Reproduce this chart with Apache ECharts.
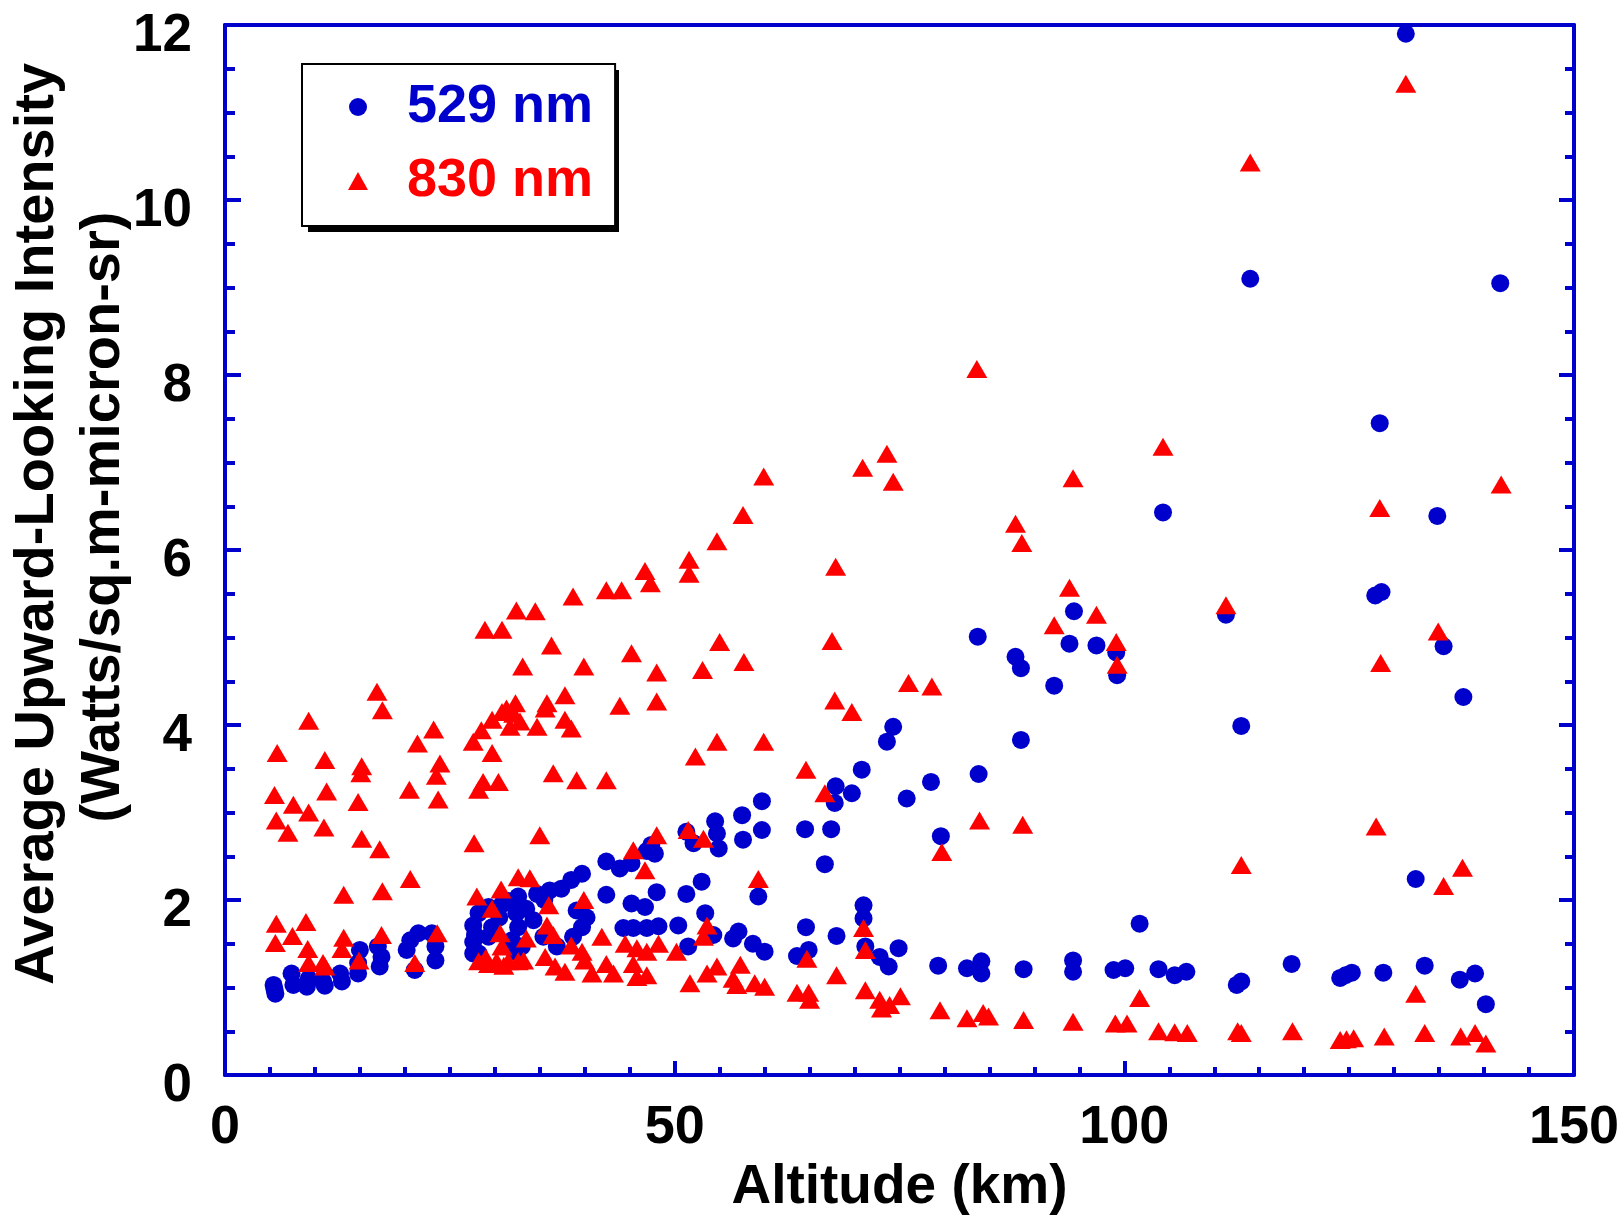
<!DOCTYPE html>
<html><head><meta charset="utf-8">
<script src="https://cdn.jsdelivr.net/npm/echarts@6/dist/echarts.min.js"></script>
<style>html,body{margin:0;padding:0;background:#fff}#c{width:1624px;height:1216px}</style>
</head><body><div id="c"></div>
<script>
// Altitude (km), intensity pairs
const points529 = [
[5.4,1.03],[5.6,0.93],[5.5,0.98],[7.4,1.16],[7.6,1.03],[9.1,1.01],[9.3,1.10],[10.9,1.07],[11.1,1.02],[12.8,1.16],[13.0,1.07],[14.8,1.16],[14.8,1.28],[15.0,1.43],[17.0,1.47],[17.2,1.24],[17.4,1.35],[20.2,1.43],[20.6,1.54],[21.1,1.20],[21.5,1.62],[23.0,1.62],[23.4,1.47],[23.4,1.31],
[27.6,1.71],[27.6,1.52],[27.6,1.39],[27.8,1.60],[28.2,1.85],[28.2,1.39],[29.3,1.92],[29.3,1.58],[29.7,1.69],[30.5,1.80],[30.8,1.95],[31.5,1.99],[31.9,1.54],[32.2,1.41],[32.4,1.85],[32.6,2.04],[32.6,1.69],[33.0,1.47],
[34.7,2.07],[36.1,2.11],[37.4,2.13],[38.5,2.23],[39.7,2.30],[42.4,2.44],[43.9,2.36],[45.2,2.42],[46.9,2.56],[47.4,2.63],[47.8,2.53],[51.3,2.78],[52.1,2.65],[54.5,2.90],[54.7,2.76],[54.9,2.59],[57.5,2.97],[57.6,2.69],[59.7,3.13],[59.7,2.80],[42.4,2.06],[45.2,1.96],[46.7,1.92],[48.0,2.09],[51.3,2.07],[53.0,2.21],[59.3,2.04],[53.4,1.85],[54.3,1.60],[50.4,1.71],[48.2,1.70],[46.9,1.68],[45.4,1.68],[44.3,1.68],[39.7,1.69],[38.7,1.58],[34.3,1.77],[51.5,1.47],[56.5,1.56],[57.1,1.64],[58.7,1.50],[60.0,1.41],[36.9,1.47],[35.4,1.58],[39.1,1.88],[40.2,1.80],[35.5,2.00],[33.5,1.90],
[74.3,3.98],[73.6,3.81],[88.5,3.83],[70.8,3.49],[67.9,3.30],[69.7,3.22],[67.8,3.11],[78.5,3.35],[75.8,3.16],[83.8,3.44],[64.5,2.81],[67.4,2.81],[66.7,2.41],[79.6,2.73],[71.0,1.94],[71.0,1.79],[64.6,1.69],[68.0,1.59],[63.6,1.36],[64.9,1.43],[71.2,1.47],[72.8,1.35],[73.8,1.24],[74.9,1.45],[79.3,1.25],[82.5,1.22],[84.1,1.30],[84.1,1.16],[88.8,1.21],[94.3,1.31],[94.3,1.18],
[83.7,5.01],[87.9,4.78],[88.5,4.65],[92.2,4.45],[93.9,4.93],[94.4,5.30],[104.3,6.43],[96.9,4.91],[99.1,4.83],[99.2,4.57],[111.3,5.26],
[113.0,3.99],[101.7,1.73],[98.8,1.20],[100.1,1.22],[103.8,1.21],[105.6,1.14],[106.9,1.18],[113.0,1.07],[112.5,1.03],[118.6,1.27],[124.0,1.11],[125.3,1.17],
[137.7,4.32],[132.4,2.24],[124.6,1.14],[128.8,1.17],[133.4,1.25],[137.3,1.09],[139.0,1.16],[140.2,0.81],
[128.4,7.45],[134.8,6.39],[127.9,5.48],[128.6,5.52],[135.5,4.90],
[131.3,11.90],[114.0,9.10],[141.8,9.05]
];
const points830 = [
[16.9,4.38],[17.5,4.17],[9.3,4.05],[23.2,3.95],[21.4,3.79],[5.8,3.68],[11.1,3.60],[15.2,3.53],[15.1,3.45],[23.9,3.56],[23.5,3.42],[5.5,3.20],[11.3,3.24],[20.5,3.26],[14.8,3.12],[23.7,3.15],[7.6,3.09],[9.3,3.00],[5.7,2.91],[7.0,2.77],[11.0,2.83],[15.2,2.70],[17.2,2.58],[20.6,2.24],[13.2,2.06],[17.5,2.10],[5.7,1.73],[9.0,1.75],[5.6,1.51],[7.5,1.59],[9.2,1.44],[13.2,1.57],[13.0,1.44],[17.4,1.60],[14.9,1.31],[9.3,1.28],[10.9,1.28],[11.1,1.24],[23.6,1.62],[21.1,1.28],
[27.7,2.65],[28.0,2.04],[30.7,2.12],[32.6,2.26],[29.7,1.90],[30.6,1.62],[30.8,1.47],[28.2,1.30],[29.0,1.34],[29.3,1.27],[30.2,1.30],[31.0,1.25],[31.5,1.30],[32.6,1.30],[33.2,1.31],
[27.6,3.81],[28.5,3.94],[29.7,4.06],[30.8,4.15],[31.3,4.19],[32.3,4.25],[32.1,4.13],[31.7,3.98],[32.8,4.04],[29.7,3.68],[28.7,3.35],[30.4,3.35],[28.2,3.26],
[35.8,4.25],[37.8,4.34],[35.6,4.19],[37.8,4.06],[38.5,3.96],[34.7,3.98],[43.9,4.22],[48.0,4.27],[52.3,3.64],[54.7,3.81],[59.9,3.81],[36.5,3.45],[39.1,3.37],[42.4,3.37],[35.0,2.74],[51.5,2.80],[53.2,2.70],[48.0,2.74],[45.4,2.57],[46.7,2.34],[59.3,2.24],[33.9,2.25],[39.9,2.00],[36.0,1.94],[53.6,1.71],[53.2,1.58],[35.8,1.71],[33.5,1.56],[36.5,1.60],[41.9,1.58],[44.5,1.50],[45.8,1.45],[48.2,1.50],[46.9,1.41],[50.2,1.41],[38.5,1.48],[39.7,1.41],[35.6,1.35],[36.7,1.24],[37.8,1.18],[40.0,1.31],[40.8,1.16],[42.4,1.27],[43.2,1.16],[45.4,1.27],[45.8,1.12],[46.9,1.14],[51.7,1.05],[54.7,1.24],[53.6,1.16],[57.3,1.26],[56.5,1.10],[56.9,1.03],[58.9,1.05],[60.0,1.01],
[59.9,6.84],[57.6,6.40],[54.7,6.10],[51.6,5.89],[51.6,5.73],[46.7,5.76],[47.3,5.62],[42.4,5.54],[44.1,5.54],[38.7,5.47],[32.4,5.31],[34.5,5.30],[30.8,5.09],[28.9,5.09],[36.3,4.91],[55.0,4.95],[33.1,4.67],[39.9,4.67],[45.2,4.82],[48.0,4.60],[53.1,4.63],[57.7,4.72],
[73.6,7.10],[70.9,6.94],[74.3,6.78],[94.3,6.82],[67.9,5.81],[87.9,6.30],[88.6,6.08],[93.9,5.57],[92.2,5.14],[67.5,4.96],
[76.0,4.48],[78.6,4.44],[67.8,4.28],[69.7,4.15],[64.6,3.49],[66.7,3.22],[83.9,2.91],[88.7,2.86],[79.7,2.55],[71.0,1.68],[71.2,1.43],[64.7,1.33],[68.0,1.14],[63.6,0.94],[64.9,0.94],[65.0,0.86],[71.2,0.97],[72.8,0.86],[73.0,0.76],[73.9,0.80],[75.1,0.90],[79.5,0.74],[82.5,0.65],[84.3,0.71],[84.9,0.67],[88.8,0.63],[94.3,0.61],
[104.3,7.18],[96.9,5.26],[99.1,4.95],[99.2,4.69],[111.3,5.37],
[113.0,2.40],[101.7,0.88],[99.0,0.59],[100.3,0.59],[103.8,0.50],[105.6,0.49],[107.0,0.48],[113.0,0.48],[112.6,0.50],[118.7,0.50],[124.0,0.40],[124.7,0.41],[125.5,0.42],
[128.0,2.84],[137.6,2.37],[135.5,2.16],[132.4,0.93],[128.9,0.44],[133.4,0.48],[137.4,0.44],[139.0,0.48],[140.2,0.36],
[141.9,6.75],[128.4,6.48],[134.9,5.07],[128.5,4.71],
[131.3,11.33],[114.0,10.43],[83.6,8.07]
];
const seriesNames = ['529 nm', '830 nm'];
const xTitle = 'Altitude (km)';
const yTitleLines = ['Average Upward-Looking Intensity', '(Watts/sq.m-micron-sr)'];

const AX = '#0000cc';
const BLUE = '#0000cc';
const RED = '#ff0000';
const FONT = '"Liberation Sans", Arial, Helvetica, sans-serif';
const chart = echarts.init(document.getElementById('c'), null, {renderer: 'canvas'});

const baseAxisLine = {show: true, onZero: false, lineStyle: {color: AX, width: 4}};
const yLabel = {color: '#000', fontSize: 53, fontWeight: 'bold', fontFamily: FONT, margin: 33,
                verticalAlign: 'top', lineHeight: 22};
const option = {
  animation: false,
  backgroundColor: '#fff',
  grid: {left: 225, top: 25, right: 50, bottom: 141, show: false, containLabel: false, outerBoundsMode: 'none'},
  legend: {
    orient: 'vertical', left: 302, top: 64, z: 10,
    padding: [15, 22, 17, 46],
    itemWidth: 20, itemHeight: 18, itemGap: 18,
    backgroundColor: '#fff', borderColor: '#000', borderWidth: 2,
    data: [
      {name: seriesNames[0], textStyle: {color: BLUE}},
      {name: seriesNames[1], textStyle: {color: RED}}
    ],
    textStyle: {fontSize: 54, fontWeight: 'bold', fontFamily: FONT, lineHeight: 56, padding: [0, 0, 0, 34]}
  },
  xAxis: [
    {
      type: 'value', min: 0, max: 150, interval: 50, position: 'bottom',
      axisLine: baseAxisLine,
      axisTick: {show: true, inside: true, length: 14, lineStyle: {color: AX, width: 4}},
      minorTick: {show: true, splitNumber: 10, length: 8, lineStyle: {color: AX, width: 4}},
      splitLine: {show: false}, minorSplitLine: {show: false},
      axisLabel: {color: '#000', fontSize: 54, fontWeight: 'bold', fontFamily: FONT, margin: 26},
      name: xTitle, nameLocation: 'middle', nameGap: 82,
      nameTextStyle: {color: '#000', fontSize: 55, fontWeight: 'bold', fontFamily: FONT}
    },
    {
      type: 'value', min: 0, max: 150, position: 'top',
      axisLine: baseAxisLine, axisTick: {show: false}, axisLabel: {show: false},
      splitLine: {show: false}
    }
  ],
  yAxis: [
    {
      type: 'value', min: 0, max: 12, interval: 2, position: 'left',
      axisLine: baseAxisLine,
      axisTick: {show: true, inside: true, length: 16, lineStyle: {color: AX, width: 4}},
      minorTick: {show: true, splitNumber: 4, length: 10, lineStyle: {color: AX, width: 4}},
      splitLine: {show: false}, minorSplitLine: {show: false},
      axisLabel: yLabel
    },
    {
      type: 'value', min: 0, max: 12, interval: 2, position: 'right',
      axisLine: baseAxisLine,
      axisTick: {show: true, inside: true, length: 15, lineStyle: {color: AX, width: 4}},
      minorTick: {show: true, splitNumber: 4, length: 9, lineStyle: {color: AX, width: 4}},
      splitLine: {show: false}, minorSplitLine: {show: false},
      axisLabel: {show: false}
    }
  ],
  graphic: [
    {type: 'rect', z: 1, silent: true, shape: {x: 308, y: 70, width: 311, height: 162},
     style: {fill: '#000'}},
    {type: 'text', x: 38, y: 524, rotation: Math.PI / 2, silent: true,
     style: {text: yTitleLines[0], font: 'bold 56px ' + FONT, fill: '#000',
             textAlign: 'center', textVerticalAlign: 'middle', align: 'center', verticalAlign: 'middle'}},
    {type: 'text', x: 104, y: 517, rotation: Math.PI / 2, silent: true,
     style: {text: yTitleLines[1], font: 'bold 56px ' + FONT, fill: '#000',
             textAlign: 'center', textVerticalAlign: 'middle', align: 'center', verticalAlign: 'middle'}}
  ],
  series: [
    {type: 'scatter', name: seriesNames[0], data: points529, symbol: 'circle', symbolSize: 18,
     itemStyle: {color: BLUE, opacity: 1}, z: 2},
    {type: 'scatter', name: seriesNames[1], data: points830, symbol: 'triangle', symbolSize: [21, 18],
     itemStyle: {color: RED, opacity: 1}, z: 3}
  ]
};
chart.setOption(option);
</script></body></html>
